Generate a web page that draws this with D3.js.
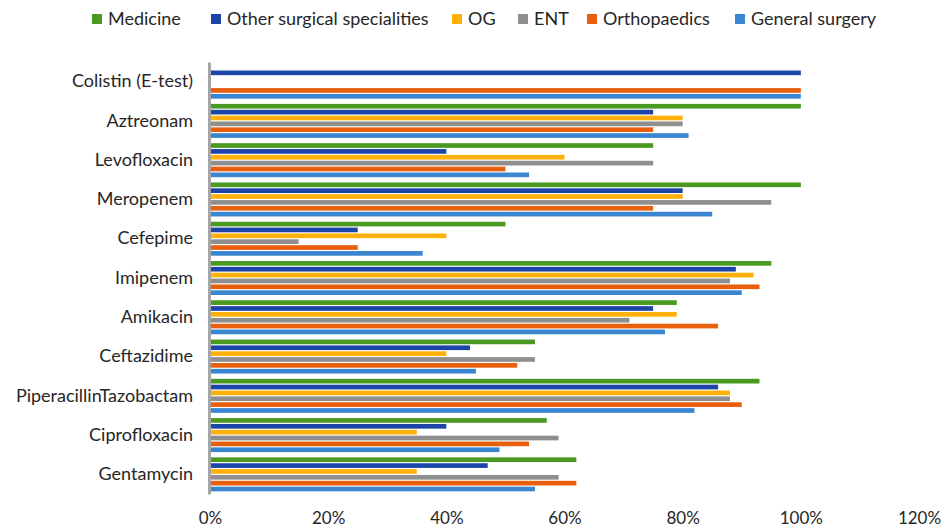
<!DOCTYPE html>
<html>
<head>
<meta charset="utf-8">
<script src="https://cdn.jsdelivr.net/npm/d3@7"></script>
<style>
  html, body { margin: 0; padding: 0; background: #ffffff; }
  svg { display: block; font-family: Lato, "Open Sans", sans-serif; }
</style>
</head>
<body>
<svg id="chart" width="942" height="531"></svg>
<script>
// Antibiotics (top to bottom)
const categories = ["Colistin (E-test)", "Aztreonam ", "Levofloxacin", "Meropenem", "Cefepime",
  "Imipenem", "Amikacin", "Ceftazidime", "PiperacillinTazobactam", "Ciprofloxacin", "Gentamycin"];

// Series names, in bar order within each group (top to bottom)
const seriesNames = ["Medicine", "Other surgical specialities", "OG", "ENT", "Orthopaedics", "General surgery"];
const seriesColors = ["#4a9a22", "#1d45a8", "#ffb10a", "#8f8f8f", "#e8600e", "#3a86d0"];

// Percentage per antibiotic, one array per ward
const medicine      = [0, 100, 75, 100, 50, 95, 79, 55, 93, 57, 62];
const otherSurgical = [100, 75, 40, 80, 25, 89, 75, 44, 86, 40, 47];
const og            = [0, 80, 60, 80, 40, 92, 79, 40, 88, 35, 35];
const ent           = [0, 80, 75, 95, 15, 88, 71, 55, 88, 59, 59];
const orthopaedics  = [100, 75, 50, 75, 25, 93, 86, 52, 90, 54, 62];
const generalSurgery= [100, 81, 54, 85, 36, 90, 77, 45, 82, 49, 55];

const xTicks = [0, 20, 40, 60, 80, 100, 120];

const seriesValues = [medicine, otherSurgical, og, ent, orthopaedics, generalSurgery];

const svg = d3.select("#chart");

const x = d3.scaleLinear().domain([0, 120]).range([210, 919]);
const y = d3.scaleBand().domain(categories).range([62, 494]).padding(0);
const sub = d3.scaleBand().domain(seriesNames).range([-17, 17]).paddingInner(0.2).paddingOuter(0);

// bars
const groups = svg.append("g").selectAll("g")
  .data(categories)
  .join("g")
  .attr("transform", d => `translate(0,${y(d) + y.bandwidth() / 2})`);

groups.selectAll("rect")
  .data((c, i) => seriesNames.map((s, j) => ({ s, j, v: seriesValues[j][i] })))
  .join("rect")
  .attr("x", x(0))
  .attr("y", d => sub(d.s))
  .attr("height", sub.bandwidth())
  .attr("width", d => x(d.v) - x(0))
  .attr("fill", d => seriesColors[d.j]);

// vertical category axis
const yAxis = svg.append("g")
  .attr("transform", `translate(${x(0) - 1},0)`)
  .call(d3.axisLeft(y).tickSize(0).tickPadding(16));
yAxis.select(".domain").attr("stroke", "#a6a6a6").attr("stroke-width", 3);
yAxis.selectAll("text")
  .attr("font-size", 18)
  .attr("fill", "#262626")
  .style("font-family", "Lato, 'Open Sans', sans-serif");

// percentage axis (labels only)
const xAxis = svg.append("g")
  .attr("transform", `translate(0,503)`)
  .call(d3.axisBottom(x).tickValues(xTicks).tickFormat(d => d + "%").tickSize(0).tickPadding(9));
xAxis.select(".domain").remove();
xAxis.selectAll("text")
  .attr("font-size", 17)
  .attr("fill", "#262626")
  .style("font-family", "Lato, 'Open Sans', sans-serif");

// legend
const legendX = [92, 211, 452, 518, 587, 735];
const legend = svg.append("g").selectAll("g")
  .data(seriesNames)
  .join("g")
  .attr("transform", (d, i) => `translate(${legendX[i]},19)`);
legend.append("rect")
  .attr("x", 0).attr("y", -5)
  .attr("width", 10).attr("height", 10)
  .attr("fill", (d, i) => seriesColors[i]);
legend.append("text")
  .attr("x", 16)
  .attr("dy", "0.35em")
  .attr("font-size", 18)
  .attr("fill", "#262626")
  .text(d => d);
</script>
</body>
</html>
